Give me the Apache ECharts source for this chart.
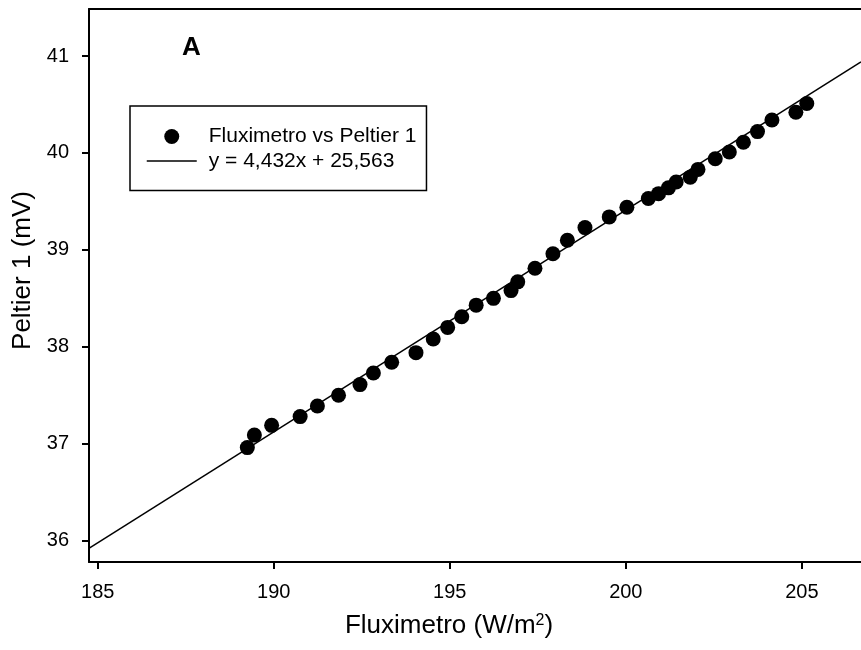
<!DOCTYPE html>
<html lang="en">
<head>
    <meta charset="UTF-8">
    <script src="https://cdn.jsdelivr.net/npm/echarts@6.0.0/dist/echarts.min.js"></script>
    <title>Fluximetro vs Peltier 1</title>
</head>
<body style="margin:0">

<div id="chart" style="width: 861px;height: 650px"></div>

<script type="text/javascript">
    var fluximetro = [189.25, 189.45, 189.94, 190.75, 191.24, 191.84, 192.45, 192.83, 193.35, 194.04,
        194.53, 194.94, 195.34, 195.75, 196.24, 196.74, 196.93, 197.42, 197.93, 198.34,
        198.84, 199.53, 200.03, 200.64, 200.93, 201.21, 201.43, 201.83, 202.05, 202.54,
        202.94, 203.34, 203.74, 204.15, 204.83, 205.14]
    var peltier1 = [36.96, 37.09, 37.19, 37.28, 37.39, 37.50, 37.61, 37.73, 37.84, 37.94,
        38.08, 38.20, 38.31, 38.43, 38.50, 38.58, 38.67, 38.81, 38.96, 39.10,
        39.23, 39.34, 39.44, 39.53, 39.58, 39.64, 39.70, 39.75, 39.83, 39.94,
        40.01, 40.11, 40.22, 40.34, 40.42, 40.51]

    // recta de ajuste (extremos)
    var fitX = [184.75, 206.68]
    var fitY = [35.92, 40.94]

    var xTicks = [185, 190, 195, 200, 205]
    var yTicks = [36, 37, 38, 39, 40, 41]

    var pointData = fluximetro.map(function (x, i) { return [x, peltier1[i]] })
    var lineData = fitX.map(function (x, i) { return [x, fitY[i]] })

    var font = 'Liberation Sans'

    var myChart = echarts.init(document.getElementById('chart'));
    var option = {
        animation: false,
        title: {
            text: 'A',
            left: 177,
            top: 30,
            textStyle: {fontSize: 26, fontWeight: 'bold', color: '#000', fontFamily: font}
        },
        legend: {
            orient: 'vertical',
            left: 130,
            top: 106,
            padding: [20, 10, 19, 16],
            itemWidth: 50,
            itemHeight: 15,
            itemGap: 3.5,
            borderColor: '#000',
            borderWidth: 1.5,
            textStyle: {fontSize: 21, color: '#000', fontFamily: font, padding: [0, 0, 0, 7]},
            data: [
                {name: 'Fluximetro vs Peltier 1', icon: 'circle'},
                {
                    name: 'y = 4,432x + 25,563',
                    itemStyle: {color: 'rgba(0,0,0,0)', borderColor: 'rgba(0,0,0,0)', borderWidth: 0},
                    lineStyle: {color: '#000', width: 1.5}
                }
            ]
        },
        grid: {left: 89, right: 0, top: 9, bottom: 88},
        xAxis: [{
            type: 'value',
            min: 184.753,
            max: 206.68,
            name: '{b|Fluximetro (W/m}{sup|2}{b|)}',
            nameLocation: 'middle',
            nameGap: 50,
            nameTextStyle: {
                fontSize: 26, color: '#000', fontFamily: font, padding: [0, 52, 0, 0],
                rich: {
                    b: {fontSize: 26, lineHeight: 26, padding: [6, 0, 0, 0], verticalAlign: 'bottom', color: '#000', fontFamily: font},
                    sup: {fontSize: 16, lineHeight: 16, verticalAlign: 'top', color: '#000', fontFamily: font}
                }
            },
            splitLine: {show: false},
            axisLine: {lineStyle: {color: '#000', width: 2}},
            axisTick: {length: 7, lineStyle: {color: '#000', width: 2}, customValues: xTicks},
            axisLabel: {fontSize: 20, color: '#000', fontFamily: font, margin: 20, customValues: xTicks}
        }, {
            type: 'value',
            position: 'top',
            min: 184.753,
            max: 206.68,
            splitLine: {show: false},
            axisLine: {lineStyle: {color: '#000', width: 2}},
            axisTick: {show: false},
            axisLabel: {show: false}
        }],
        yAxis: {
            type: 'value',
            min: 35.78,
            max: 41.485,
            name: 'Peltier 1 (mV)',
            nameLocation: 'middle',
            nameGap: 50,
            nameTextStyle: {fontSize: 26, color: '#000', fontFamily: font, padding: [0, 0, 0, 30]},
            splitLine: {show: false},
            axisLine: {lineStyle: {color: '#000', width: 2}},
            axisTick: {length: 7, lineStyle: {color: '#000', width: 2}, customValues: yTicks},
            axisLabel: {fontSize: 20, color: '#000', fontFamily: font, margin: 20, customValues: yTicks}
        },
        series: [
            {
                name: 'Fluximetro vs Peltier 1',
                type: 'scatter',
                data: pointData,
                symbol: 'circle',
                symbolSize: 15,
                itemStyle: {color: '#000', opacity: 1},
                z: 3
            },
            {
                name: 'y = 4,432x + 25,563',
                type: 'line',
                data: lineData,
                symbol: 'none',
                clip: true,
                lineStyle: {color: '#000', width: 1.5},
                itemStyle: {color: '#000'},
                z: 2
            }
        ]
    };
    myChart.setOption(option);
</script>
</body>
</html>
